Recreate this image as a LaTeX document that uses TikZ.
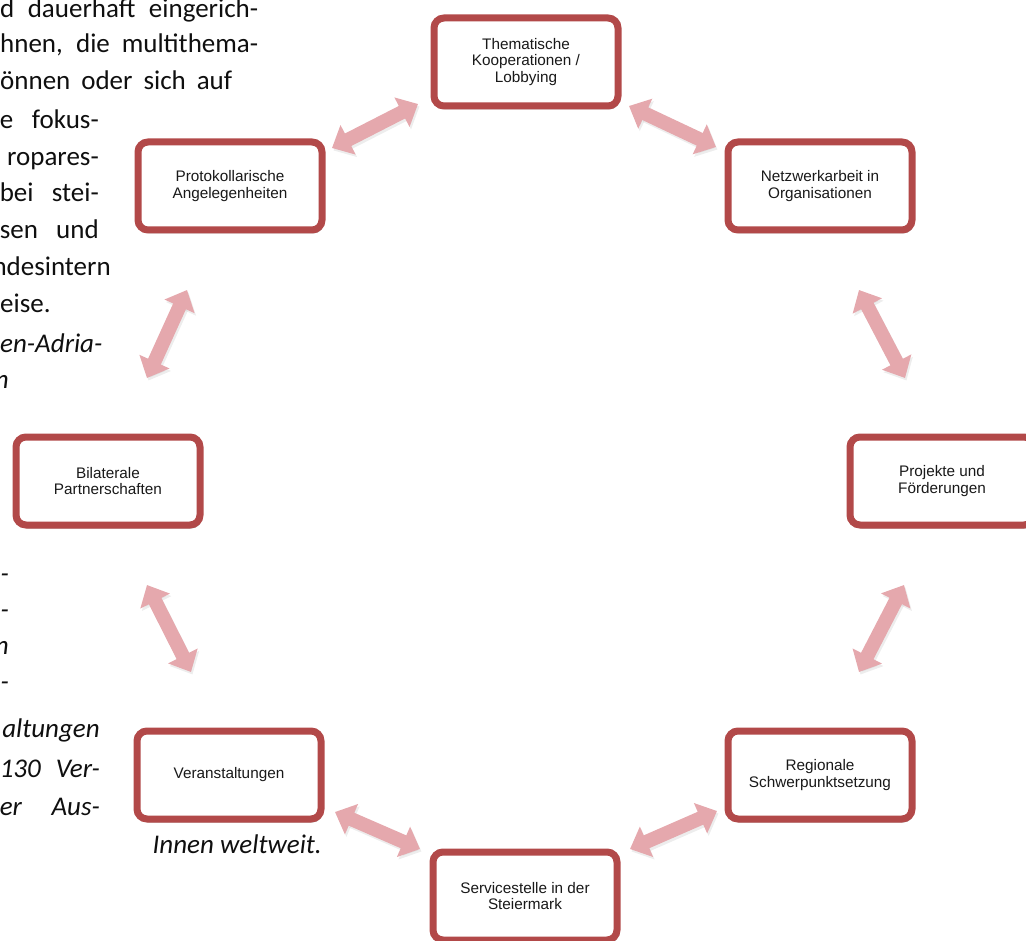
\documentclass[tikz,border=0pt]{standalone}
\usepackage{fontspec}
\setmainfont{Carlito}
\newfontfamily\boxfont{Liberation Sans}
\usetikzlibrary{arrows.meta,shadows,calc}
\definecolor{boxred}{RGB}{178,73,73}
\definecolor{arrowpink}{RGB}{229,168,173}
\definecolor{txt}{RGB}{15,15,15}
\begin{document}
\begin{tikzpicture}[x=1pt,y=-1pt,
  cbox/.style={draw=boxred, line width=7pt, rounded corners=10pt, fill=white,
    minimum width=184pt, minimum height=88pt, align=center, inner sep=2pt,
    font=\boxfont\fontsize{15.3}{16.8}\selectfont, text=black!90,
    drop shadow={shadow xshift=1.5pt, shadow yshift=-3.5pt, opacity=0.25, fill=black}},
  conn/.style={line width=14pt, draw=arrowpink,
    {Triangle[length=18pt,width=32pt]}-{Triangle[length=18pt,width=32pt]}},
  connshadow/.style={line width=14pt, draw=black!35, opacity=0.2,
    transform canvas={shift={(1.5pt,-2.5pt)}},
    {Triangle[length=18pt,width=32pt]}-{Triangle[length=18pt,width=32pt]}},
  body/.style={font=\fontsize{27}{33}\selectfont, text=txt, inner sep=0pt},
  ]
\useasboundingbox (0,0) rectangle (1026,941);
\clip (0,0) rectangle (1026,941);

% ---- surrounding body text ----
\node[body,anchor=mid west] (t1) at (0,15) {\makebox[258pt][s]{d dauerhaft eingerich-}};
\node[body,anchor=mid west] (t2) at (0,50) {\makebox[258pt][s]{hnen, die multithema-}};
\node[body,anchor=mid west] (t3) at (0,87) {\makebox[232pt][s]{önnen oder sich auf}};
\node[body,anchor=mid east] (t4) at (99,126) {\makebox[99pt][s]{e fokus-}};
\node[body,anchor=mid east] (t5) at (99,163) {ropares-};
\node[body,anchor=mid east] (t6) at (99,199) {\makebox[99pt][s]{bei stei-}};
\node[body,anchor=mid east] (t7) at (99,236) {\makebox[99pt][s]{sen und}};
\node[body,anchor=mid east] (t8) at (111,273) {ndesintern};
\node[body,anchor=mid west] (t9) at (0,310) {eise.};
\node[body,anchor=mid west] (t10) at (0,350) {\itshape en-Adria-};
\node[body,anchor=mid east] (t11) at (9,386) {\itshape n};
\node[body,anchor=mid east] (t12) at (9,580) {\itshape -};
\node[body,anchor=mid east] (t13) at (9,616) {\itshape -};
\node[body,anchor=mid east] (t14) at (9,652) {\itshape n};
\node[body,anchor=mid east] (t15) at (9,688) {\itshape -};
\node[body,anchor=mid east] (t16) at (100,735) {\itshape altungen};
\node[body,anchor=mid east] (t17) at (100,775) {\itshape\makebox[100pt][s]{130 Ver-}};
\node[body,anchor=mid east] (t18) at (100,813) {\itshape\makebox[100pt][s]{er Aus-}};
\node[body,anchor=mid east] (t19) at (322,851) {\itshape Innen weltweit.};

% ---- boxes ----
\node[cbox] (T)  at (526,62)  {Thematische\\Kooperationen /\\Lobbying};
\node[cbox] (N)  at (820,186) {Netzwerkarbeit in\\Organisationen};
\node[cbox] (Pr) at (942,481) {Projekte und\\Förderungen};
\node[cbox] (R)  at (820,775) {Regionale\\Schwerpunktsetzung};
\node[cbox] (S)  at (525,896) {Servicestelle in der\\Steiermark};
\node[cbox] (V)  at (229,775) {Veranstaltungen};
\node[cbox] (B)  at (108,481) {Bilaterale\\Partnerschaften};
\node[cbox] (P)  at (230,186) {Protokollarische\\Angelegenheiten};

% ---- double arrows ----
\coordinate (a1) at ($(T)+(-108,42)$);  \coordinate (b1) at ($(P)+(102,-38)$);
\coordinate (a2) at ($(T)+(103,44)$);   \coordinate (b2) at ($(N)+(-104,-39)$);
\coordinate (a3) at ($(P)+(-43,104)$);  \coordinate (b3) at ($(B)+(39,-103)$);
\coordinate (a4) at ($(B)+(39,104)$);   \coordinate (b4) at ($(V)+(-38,-103)$);
\coordinate (a5) at ($(V)+(106,37)$);   \coordinate (b5) at ($(S)+(-105,-47)$);
\coordinate (a6) at ($(S)+(105,-47)$);  \coordinate (b6) at ($(R)+(-103,36)$);
\coordinate (a7) at ($(R)+(39,-103)$);  \coordinate (b7) at ($(Pr)+(-38,104)$);
\coordinate (a8) at ($(Pr)+(-37,-103)$);\coordinate (b8) at ($(N)+(39,104)$);
\foreach \i in {1,...,8}{
  \draw[connshadow] (a\i) -- (b\i);
  \draw[conn] (a\i) -- (b\i);
}
\end{tikzpicture}
\end{document}
